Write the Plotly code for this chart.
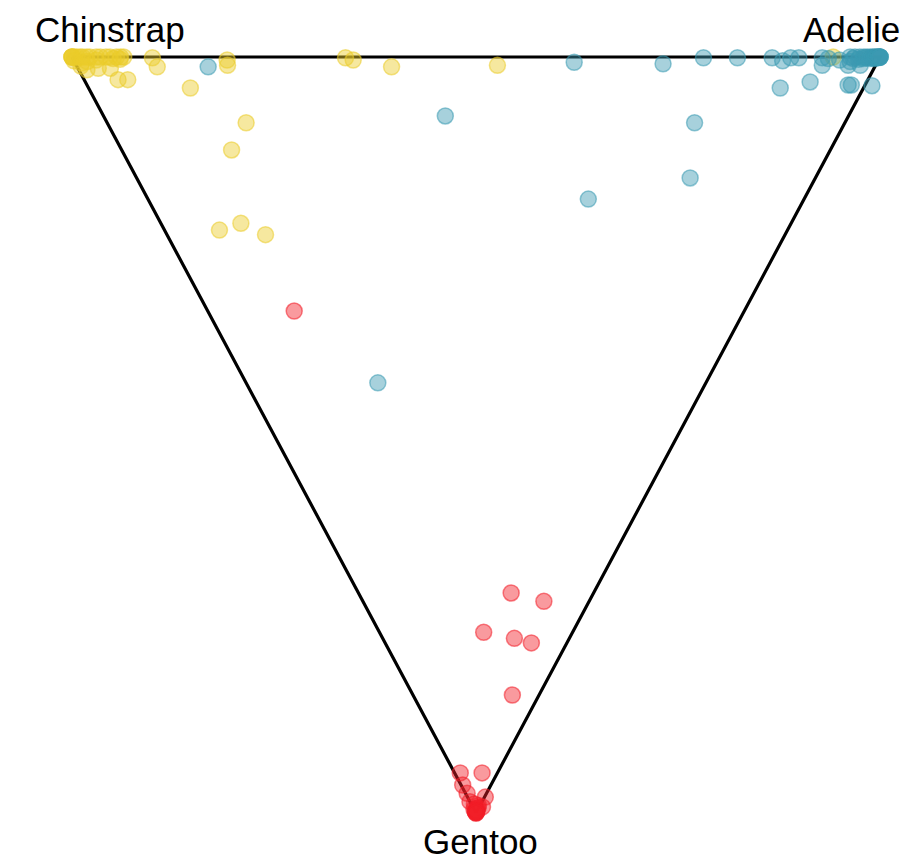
import numpy as np
import plotly.graph_objects as go

# Predicted class probabilities (Adelie, Gentoo); Chinstrap = 1 - Adelie - Gentoo
# Grouped by the true species of each penguin.

chin_adelie = [0.0, 0.0, 0.0, 0.0, 0.003, 0.006, 0.01, 0.013, 0.018, 0.022, 0.03, 0.035,
               0.042, 0.047, 0.055, 0.06, 0.064, 0.005, 0.01, 0.025, 0.040, 0.042, 0.054,
               0.099, 0.099, 0.126, 0.19, 0.187, 0.338, 0.346, 0.389, 0.521, 0.942,
               0.172, 0.136, 0.068, 0.099, 0.122, 0.0, 0.008, 0.016, 0.028, 0.05, 0.058]
chin_gentoo = [0.0, 0.0, 0.0, 0.0, 0.0, 0.0, 0.0, 0.0, 0.0, 0.0, 0.0, 0.0,
               0.0, 0.0, 0.0, 0.0, 0.0, 0.012, 0.017, 0.015, 0.015, 0.030, 0.030,
               0.001, 0.013, 0.041, 0.004, 0.011, 0.001, 0.004, 0.013, 0.011, 0.0,
               0.087, 0.123, 0.229, 0.220, 0.235, 0.005, 0.008, 0.006, 0.004, 0.002, 0.003]

adel_adelie = [0.162, 0.423, 0.545, 0.685, 0.727, 0.163, 0.618, 0.727, 0.781, 0.823,
               0.866, 0.877, 0.889, 0.899, 0.928, 0.923, 0.948, 0.856, 0.897, 0.942,
               0.946, 0.971, 0.970, 0.963, 0.966, 0.969, 0.972, 0.975, 0.978, 0.980,
               0.982, 0.984, 0.986, 0.988, 0.990, 0.991, 0.992, 0.993, 0.994, 0.995,
               0.996, 0.997, 0.998, 0.999, 1.0, 1.0, 1.0, 1.0, 0.955, 0.960, 0.935]
adel_gentoo = [0.013, 0.078, 0.188, 0.160, 0.087, 0.431, 0.007, 0.009, 0.001, 0.001,
               0.001, 0.005, 0.001, 0.001, 0.001, 0.011, 0.004, 0.041, 0.033, 0.037,
               0.037, 0.038, 0.011, 0.0, 0.002, 0.0, 0.003, 0.0, 0.002, 0.0,
               0.001, 0.0, 0.002, 0.0, 0.001, 0.0, 0.002, 0.0, 0.001, 0.0,
               0.0, 0.001, 0.0, 0.0, 0.0, 0.0, 0.0, 0.0, 0.011, 0.006, 0.002]

gent_adelie = [0.107, 0.189, 0.224, 0.129, 0.163, 0.181, 0.123, 0.007, 0.034, 0.002,
               0.002, 0.022, 0.0, 0.004, 0.008, 0.012, 0.0, 0.003, 0.006, 0.002,
               0.0, 0.001, 0.004, 0.0, 0.002, 0.0, 0.001, 0.0]
gent_gentoo = [0.336, 0.709, 0.720, 0.761, 0.769, 0.775, 0.844, 0.947, 0.947, 0.963,
               0.974, 0.979, 0.985, 0.988, 0.990, 0.992, 0.995, 0.996, 0.993, 0.997,
               0.998, 0.999, 0.994, 1.0, 0.998, 0.999, 0.997, 1.0]

# Triangle corners as (Adelie, Gentoo) probabilities: Chinstrap, Adelie, Gentoo
corner_adelie = [0.0, 1.0, 0.0, 0.0]
corner_gentoo = [0.0, 0.0, 1.0, 0.0]
corner_names = ["Chinstrap", "Adelie", "Gentoo"]


def to_xy(adelie, gentoo):
    a = np.asarray(adelie, dtype=float)
    g = np.asarray(gentoo, dtype=float)
    return a + 0.5 * g, g


fig = go.Figure()

cx, cy = to_xy(corner_adelie, corner_gentoo)
fig.add_trace(go.Scatter(x=cx, y=cy, mode="lines",
                         line=dict(color="black", width=3.2), hoverinfo="skip"))

groups = [
    ("Chinstrap", chin_adelie, chin_gentoo, "235,204,42"),
    ("Adelie", adel_adelie, adel_gentoo, "59,154,178"),
    ("Gentoo", gent_adelie, gent_gentoo, "242,30,40"),
]
for name, a, g, rgb in groups:
    x, y = to_xy(a, g)
    fig.add_trace(go.Scatter(
        x=x, y=y, mode="markers", name=name,
        marker=dict(size=16, color=f"rgba({rgb},0.45)",
                    line=dict(color=f"rgba({rgb},0.55)", width=1.5)),
    ))

# label anchor: (x, y, yanchor)
label_pos = {"Chinstrap": (0.047, -0.037, "middle"),
             "Adelie": (0.965, -0.037, "middle"),
             "Gentoo": (0.506, 1.066, "bottom")}
for name in corner_names:
    lx, ly, ya = label_pos[name]
    fig.add_annotation(x=lx, y=ly, text=name, showarrow=False,
                       xanchor="center", yanchor=ya,
                       font=dict(family="Liberation Sans, Arial", size=35, color="black"))

fig.update_layout(
    width=918, height=864,
    margin=dict(l=0, r=0, t=0, b=0),
    paper_bgcolor="white", plot_bgcolor="white",
    showlegend=False,
    xaxis=dict(range=[-0.0891, 1.047], visible=False, fixedrange=True),
    yaxis=dict(range=[1.0675, -0.0754], visible=False, fixedrange=True),
)

fig.write_html("out.html")
